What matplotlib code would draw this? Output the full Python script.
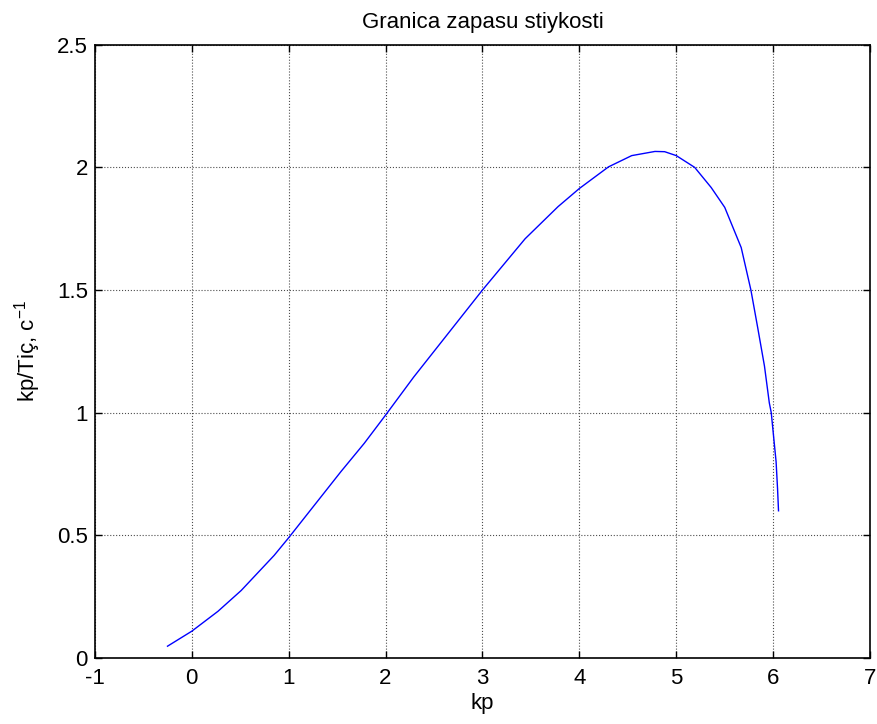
import matplotlib
matplotlib.use("Agg")
import matplotlib.pyplot as plt

kp = [-0.25, 0.0, 0.27, 0.51, 0.85, 1.0, 1.30, 1.54, 1.78, 2.0, 2.29, 2.64, 3.0,
      3.44, 3.78, 4.0, 4.3, 4.54, 4.78, 4.88, 5.0, 5.19, 5.36, 5.50, 5.67, 5.77,
      5.84, 5.91, 5.96, 5.98, 6.01, 6.03, 6.045, 6.055]
kp_ti = [0.048, 0.109, 0.19, 0.275, 0.418, 0.49, 0.64, 0.76, 0.875, 0.99, 1.145,
         1.32, 1.5, 1.709, 1.84, 1.914, 2.002, 2.048, 2.065, 2.064, 2.048, 2.0,
         1.918, 1.837, 1.673, 1.5, 1.347, 1.19, 1.04, 1.0, 0.88, 0.80, 0.69, 0.60]

xticks = [-1, 0, 1, 2, 3, 4, 5, 6, 7]
yticks = [0, 0.5, 1, 1.5, 2, 2.5]
xtick_labels = ["-1", "0", "1", "2", "3", "4", "5", "6", "7"]
ytick_labels = ["0", "0.5", "1", "1.5", "2", "2.5"]

plt.rcParams['font.family'] = ['Liberation Sans', 'DejaVu Sans']
plt.rcParams['mathtext.fontset'] = 'custom'
plt.rcParams['mathtext.rm'] = 'Liberation Sans'
plt.rcParams['mathtext.it'] = 'Liberation Sans'

FS = 16
fig = plt.figure(figsize=(8.78, 7.24), dpi=100)
ax = fig.add_axes([0.108, 0.0912, 0.883, 0.847])
ax.plot(kp, kp_ti, color=(0, 0, 1), lw=1.0)
ax.set_xlim(-1, 7)
ax.set_ylim(0, 2.5)
ax.set_xticks(xticks)
ax.set_xticklabels(xtick_labels)
ax.set_yticks(yticks)
ax.set_yticklabels(ytick_labels)
ax.grid(True, ls=':', color='0.3', lw=0.8)
ax.tick_params(direction='in', top=True, right=True, length=5, width=1.0,
               labelsize=FS)
ax.tick_params(axis='x', pad=7)
ax.tick_params(axis='y', pad=5)
for s in ax.spines.values():
    s.set_linewidth(1.2)
ax.set_title("Granica zapasu stiykosti", fontsize=FS, pad=12)
ax.set_xlabel("kp", fontsize=FS, labelpad=3)
ax.set_ylabel("kp/Tiç, c$^{-1}$", fontsize=FS, labelpad=10)
fig.savefig("out.png", dpi=100)
